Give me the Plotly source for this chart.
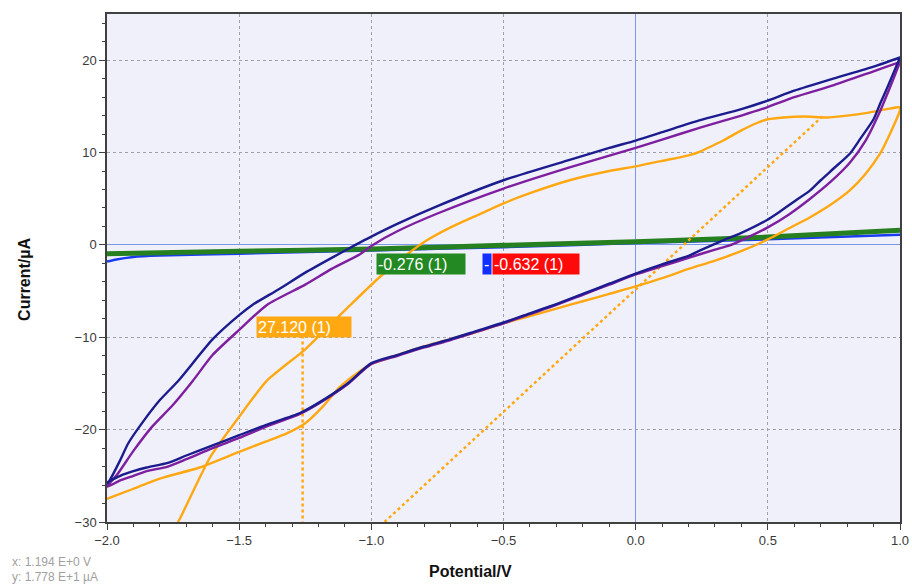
import plotly.graph_objects as go

# ---- cyclic voltammograms (potential in V, current in µA) ----
# dark blue scan: forward (cathodic -> anodic) and return branches
navy_fwd_x = [-2.0, -1.95, -1.9, -1.85, -1.77, -1.7, -1.6, -1.5, -1.4, -1.27, -1.2, -1.09, -1.0,
              -0.9, -0.8, -0.7, -0.6, -0.5, -0.4, -0.3, -0.2, -0.1, 0.0, 0.1, 0.2, 0.244, 0.331,
              0.4, 0.497, 0.55, 0.6, 0.66, 0.7, 0.75, 0.811, 0.85, 0.9, 0.925, 0.95, 0.975, 1.0]
navy_fwd_y = [-25.7, -25.0, -24.5, -24.1, -23.6, -22.8, -21.7, -20.6, -19.5, -18.2, -17.1, -15.0, -12.8,
              -11.9, -11.0, -10.2, -9.3, -8.4, -7.4, -6.4, -5.3, -4.2, -3.1, -2.1, -1.2, -0.6, 0.5,
              1.3, 2.7, 3.7, 4.7, 5.9, 7.0, 8.3, 9.9, 11.5, 13.6, 15.3, 16.9, 18.6, 20.3]
navy_rev_x = [1.0, 0.9, 0.747, 0.6, 0.497, 0.4, 0.244, 0.1, 0.0, -0.1, -0.25, -0.5, -0.75, -0.9,
              -1.0, -1.06, -1.15, -1.25, -1.35, -1.45, -1.5, -1.6, -1.73, -1.8, -1.86, -1.92,
              -1.95, -1.99, -2.0]
navy_rev_y = [20.3, 19.3, 18.0, 16.7, 15.6, 14.7, 13.5, 12.2, 11.3, 10.5, 9.2, 7.0, 4.2, 2.3,
              0.9, 0.0, -1.4, -3.0, -4.8, -6.5, -7.6, -10.2, -14.7, -16.8, -19.0, -21.5,
              -23.3, -25.5, -25.9]

# purple scan
purple_fwd_x = [-2.0, -1.95, -1.9, -1.85, -1.77, -1.7, -1.6, -1.5, -1.4, -1.27, -1.2, -1.09, -1.0,
                -0.9, -0.8, -0.7, -0.6, -0.5, -0.4, -0.3, -0.2, -0.1, 0.0, 0.1, 0.2, 0.3, 0.35,
                0.4, 0.5, 0.58, 0.66, 0.74, 0.81, 0.87, 0.925, 0.96, 1.0]
purple_fwd_y = [-26.2, -25.5, -25.0, -24.5, -24.0, -23.2, -22.0, -20.9, -19.7, -18.3, -17.2, -15.1, -12.9,
                -12.0, -11.1, -10.3, -9.4, -8.5, -7.5, -6.5, -5.4, -4.3, -3.2, -2.3, -1.4, -0.5, -0.1,
                0.5, 1.9, 3.3, 5.0, 6.9, 8.9, 11.3, 14.5, 16.9, 19.8]
purple_rev_x = [1.0, 0.9, 0.75, 0.6, 0.497, 0.4, 0.244, 0.1, 0.0, -0.25, -0.5, -0.75, -0.9, -0.994,
                -1.043, -1.15, -1.25, -1.395, -1.5, -1.6, -1.675, -1.75, -1.83, -1.9, -1.96, -2.0]
purple_rev_y = [19.8, 18.8, 17.3, 16.0, 14.9, 14.0, 12.7, 11.4, 10.5, 8.4, 6.1, 3.4, 1.5, 0.0,
                -1.0, -2.6, -4.3, -6.5, -9.2, -11.9, -14.7, -17.3, -19.7, -22.3, -24.8, -26.2]

# orange scan (return branch leaves the window below -30 µA)
orange_fwd_x = [-2.0, -1.9, -1.8, -1.65, -1.5, -1.4, -1.32, -1.25, -1.18, -1.12, -1.05, -1.0, -0.9,
                -0.8, -0.7, -0.6, -0.5, -0.4, -0.3, -0.2, -0.1, 0.0, 0.1, 0.2, 0.3, 0.406, 0.5,
                0.58, 0.66, 0.74, 0.81, 0.87, 0.925, 0.96, 1.0]
orange_fwd_y = [-27.5, -26.4, -25.3, -24.1, -22.4, -21.3, -20.4, -19.3, -17.4, -15.4, -13.8, -12.9, -11.9,
                -11.0, -10.2, -9.4, -8.5, -7.7, -6.9, -6.1, -5.3, -4.5, -3.6, -2.6, -1.7, -0.6, 0.6,
                1.8, 3.0, 4.4, 5.9, 7.7, 9.9, 11.9, 14.6]
orange_rev_x = [1.0, 0.95, 0.876, 0.8, 0.724, 0.64, 0.558, 0.5, 0.459, 0.4, 0.331, 0.28, 0.244, 0.2,
                0.1, 0.0, -0.1, -0.25, -0.4, -0.5, -0.6, -0.7, -0.79, -0.85, -0.967, -1.081,
                -1.131, -1.25, -1.395, -1.5, -1.61, -1.72, -1.75]
orange_rev_y = [14.9, 14.7, 14.3, 14.0, 13.8, 13.9, 13.8, 13.6, 13.2, 12.4, 11.3, 10.6, 10.1, 9.7,
                9.1, 8.5, 8.0, 7.0, 5.6, 4.5, 3.2, 1.9, 0.5, -0.7, -3.45, -6.55,
                -7.95, -11.3, -14.7, -18.6, -23.0, -29.4, -31.0]

# near-flat background scans
green_x = [-2.0, -1.5, -1.0, -0.5, 0.0, 0.5, 1.0]
green_y = [-0.95, -0.7, -0.45, -0.05, 0.35, 0.85, 1.6]
blue_x = [-2.0, -1.97, -1.9, -1.8, -1.5, -1.0, -0.5, 0.0, 0.5, 1.0]
blue_y = [-1.8, -1.6, -1.3, -1.15, -0.95, -0.6, -0.25, 0.2, 0.6, 1.1]

# peak-analysis construction lines
baseline_x = [-0.95, 0.71]
baseline_y = [-30.0, 14.0]
marker_x = [-1.26, -1.26]
marker_y = [-9.8, -30.0]

# peak labels: text, potential of left edge, current of top edge, colour, box width (px)
peak_texts = ["-0.276 (1)", "-", "-0.632 (1)", "27.120 (1)"]
peak_x = [-0.982, -0.581, -0.5435, -1.436]
peak_y = [-0.89, -0.89, -0.89, -7.7]
peak_colors = ["#238a23", "#1030ff", "#ff0a0a", "#ffa812"]
peak_widths = [86, 6, 84, 92]

NAVY = "#1c1c8e"
PURPLE = "#7d1f9e"
ORANGE = "#ffa812"
GREEN = "#27801f"
BLUE = "#1a3cf0"
SHAPE = dict(shape="spline", smoothing=0.6)

fig = go.Figure()

fig.add_trace(go.Scatter(x=blue_x, y=blue_y, mode="lines",
                         line=dict(color=BLUE, width=2.5, **SHAPE), showlegend=False))
fig.add_trace(go.Scatter(x=green_x, y=green_y, mode="lines",
                         line=dict(color=GREEN, width=5, **SHAPE), showlegend=False))
fig.add_trace(go.Scatter(x=orange_fwd_x + orange_rev_x, y=orange_fwd_y + orange_rev_y,
                         mode="lines", line=dict(color=ORANGE, width=2.4, **SHAPE), showlegend=False))
fig.add_trace(go.Scatter(x=baseline_x, y=baseline_y, mode="lines",
                         line=dict(color=ORANGE, width=2.5, dash="dot"), showlegend=False))
fig.add_trace(go.Scatter(x=marker_x, y=marker_y, mode="lines",
                         line=dict(color=ORANGE, width=2.5, dash="dot"), showlegend=False))
fig.add_trace(go.Scatter(x=purple_fwd_x + purple_rev_x, y=purple_fwd_y + purple_rev_y,
                         mode="lines", line=dict(color=PURPLE, width=2.4, **SHAPE), showlegend=False))
fig.add_trace(go.Scatter(x=navy_fwd_x + navy_rev_x, y=navy_fwd_y + navy_rev_y,
                         mode="lines", line=dict(color=NAVY, width=2.4, **SHAPE), showlegend=False))

tick_font = dict(family="Liberation Sans, Arial, sans-serif", size=13, color="#3a3a3a")

fig.update_xaxes(
    range=[-2.0, 1.0], dtick=0.5, tick0=-2.0, tickformat=".1f", automargin=False,
    showline=True, mirror=True, linecolor="#404040", linewidth=1.5,
    ticks="outside", ticklen=6, tickcolor="#404040", tickfont=tick_font,
    showgrid=True, gridcolor="#a0a0aa", griddash="dot", gridwidth=1,
    zeroline=True, zerolinecolor="#7a98e6", zerolinewidth=1.2,
    minor=dict(dtick=0.1, ticks="outside", ticklen=3, tickcolor="#404040", showgrid=False),
)
fig.update_yaxes(
    range=[-30, 25], dtick=10, tick0=0, automargin=False,
    showline=True, mirror=True, linecolor="#404040", linewidth=1.5,
    ticks="outside", ticklen=6, tickcolor="#404040", tickfont=tick_font,
    showgrid=True, gridcolor="#a0a0aa", griddash="dot", gridwidth=1,
    zeroline=True, zerolinecolor="#7a98e6", zerolinewidth=1.2,
    minor=dict(dtick=2, ticks="outside", ticklen=3, tickcolor="#404040", showgrid=False),
)

annotations = []
for txt, px, py, col, w in zip(peak_texts, peak_x, peak_y, peak_colors, peak_widths):
    annotations.append(dict(
        x=px, y=py, xref="x", yref="y", xanchor="left", yanchor="top",
        text=txt, showarrow=False, bgcolor=col, borderpad=1, width=w, height=18,
        align="left", font=dict(family="Liberation Sans, Arial, sans-serif", size=16, color="white"),
    ))

annotations += [
    dict(x=-0.105, y=0.478, xref="paper", yref="paper", text="<b>Current/µA</b>",
         textangle=-90, showarrow=False, xanchor="center", yanchor="middle",
         font=dict(family="Liberation Sans, Arial, sans-serif", size=16, color="#111")),
    dict(x=0.458, y=-0.098, xref="paper", yref="paper", text="<b>Potential/V</b>",
         showarrow=False, xanchor="center", yanchor="middle",
         font=dict(family="Liberation Sans, Arial, sans-serif", size=16, color="#111")),
    dict(x=-0.1223, y=-0.079, xref="paper", yref="paper", text="x: 1.194 E+0 V",
         showarrow=False, xanchor="left", yanchor="middle",
         font=dict(family="Liberation Sans, Arial, sans-serif", size=12, color="#a0a0a0")),
    dict(x=-0.1223, y=-0.108, xref="paper", yref="paper", text="y: 1.778 E+1 µA",
         showarrow=False, xanchor="left", yanchor="middle",
         font=dict(family="Liberation Sans, Arial, sans-serif", size=12, color="#a0a0a0")),
]

fig.update_layout(
    width=912, height=585,
    margin=dict(l=107, r=12, t=14, b=63),
    paper_bgcolor="white", plot_bgcolor="#f0f0fa",
    showlegend=False, annotations=annotations,
)

fig.write_html("out.html")
